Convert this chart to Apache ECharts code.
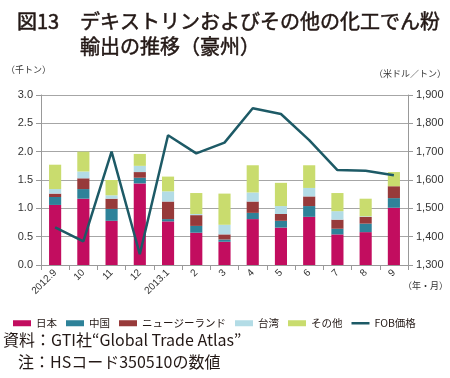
<!DOCTYPE html>
<html>
<head>
<meta charset="utf-8">
<script src="https://cdn.jsdelivr.net/npm/echarts@6/dist/echarts.min.js"></script>
<style>
html, body { margin: 0; padding: 0; background: #fff; }
#chart { width: 450px; height: 378px; }
</style>
</head>
<body>
<div id="chart"></div>
<script>
var months = ['2012.9', '10', '11', '12', '2013.1', '2', '3', '4', '5', '6', '7', '8', '9'];
// 千トン
var japan  = [1.06, 1.17, 0.78, 1.44, 0.77, 0.57, 0.41, 0.81, 0.66, 0.85, 0.54, 0.58, 1.01];
var china  = [0.14, 0.17, 0.21, 0.10, 0.04, 0.12, 0.04, 0.11, 0.12, 0.19, 0.10, 0.15, 0.17];
var nz     = [0.06, 0.19, 0.18, 0.10, 0.31, 0.19, 0.09, 0.20, 0.12, 0.17, 0.16, 0.12, 0.21];
var taiwan = [0.08, 0.12, 0.06, 0.11, 0.18, 0.02, 0.17, 0.16, 0.14, 0.15, 0.15, 0.01, 0.00];
var other  = [0.43, 0.35, 0.27, 0.21, 0.26, 0.37, 0.55, 0.48, 0.41, 0.40, 0.32, 0.31, 0.25];
// 米ドル/トン
var fob    = [1433, 1383, 1700, 1338, 1758, 1694, 1732, 1853, 1833, 1741, 1635, 1633, 1617];

var font = 'Liberation Sans, Noto Sans CJK JP, sans-serif';
var jpFont = 'Noto Sans CJK JP, sans-serif';

var dom = document.getElementById('chart');
var myChart = echarts.init(dom);

function bar(name, data, color) {
	return {
		name: name,
		type: 'bar',
		stack: 'total',
		yAxisIndex: 0,
		barWidth: '43%',
		data: data,
		itemStyle: { color: color }
	};
}

// 凡例の線アイコン（上下に透明な余白をとって細い線にする）
var lineIcon = 'path://M0,0L18,0L18,0.01L0,0.01Z M0,1.7L18,1.7L18,4.3L0,4.3Z M0,5.99L18,5.99L18,6L0,6Z';

var titleStyle = {
	fontFamily: jpFont, fontSize: 20, fontWeight: 'normal', color: '#231815',
	lineHeight: 25, textBorderColor: '#231815', textBorderWidth: 0.5
};

var option = {
	animation: false,
	textStyle: { fontFamily: font },
	title: [{
		text: '図13',
		left: 12, top: 4,
		textStyle: titleStyle
	}, {
		text: 'デキストリンおよびその他の化工でん粉\n輸出の推移（豪州）',
		left: 75, top: 4,
		textStyle: titleStyle
	}],
	graphic: [
		{ type: 'text', left: 6, top: 65, style: { text: '（千トン）', font: '9px ' + jpFont, fill: '#333' } },
		{ type: 'text', right: 4, top: 69, style: { text: '（米ドル／トン）', font: '9px ' + jpFont, fill: '#333' } },
		{ type: 'text', right: 2, top: 281, style: { text: '（年・月）', font: '9px ' + jpFont, fill: '#333' } },
		{ type: 'text', left: 3, top: 332, style: { text: '資料：GTI社“Global Trade Atlas”', font: '16px ' + jpFont, fill: '#231815' } },
		{ type: 'text', left: 18, top: 354, style: { text: '注：HSコード350510の数値', font: '16px ' + jpFont, fill: '#231815' } }
	],
	legend: {
		left: 8, top: 313,
		itemWidth: 18, itemHeight: 6, itemGap: 9,
		textStyle: { fontFamily: jpFont, fontSize: 10.5, color: '#231815' },
		data: [
			{ name: '日本', icon: 'rect' },
			{ name: '中国', icon: 'rect' },
			{ name: 'ニュージーランド', icon: 'rect' },
			{ name: '台湾', icon: 'rect' },
			{ name: 'その他', icon: 'rect' },
			{ name: 'FOB価格', icon: lineIcon }
		]
	},
	grid: { left: 41, right: 42, top: 95, bottom: 113 },
	xAxis: {
		type: 'category',
		data: months,
		axisLine: { lineStyle: { color: '#999' } },
		axisTick: { show: true, lineStyle: { color: '#999' } },
		axisLabel: { rotate: 45, fontSize: 10, color: '#333', margin: 6 }
	},
	yAxis: [{
		type: 'value',
		min: 0, max: 3, interval: 0.5,
		axisLine: { show: true, lineStyle: { color: '#999' } },
		axisTick: { show: true, lineStyle: { color: '#999' } },
		axisLabel: { fontSize: 11, color: '#333', formatter: function (v) { return v.toFixed(1); } },
		splitLine: { lineStyle: { color: '#a6a6a6' } }
	}, {
		type: 'value',
		min: 1300, max: 1900, interval: 100,
		axisLine: { show: true, lineStyle: { color: '#999' } },
		axisTick: { show: true, lineStyle: { color: '#999' } },
		axisLabel: { fontSize: 11, color: '#333', formatter: function (v) { return String(v).replace(/(\d)(\d{3})$/, '$1,$2'); } },
		splitLine: { show: false }
	}],
	series: [
		bar('日本', japan, '#c20d5f'),
		bar('中国', china, '#2e8299'),
		bar('ニュージーランド', nz, '#973a3a'),
		bar('台湾', taiwan, '#b3dce6'),
		bar('その他', other, '#c9dc6e'),
		{
			name: 'FOB価格',
			type: 'line',
			yAxisIndex: 1,
			data: fob,
			symbol: 'none',
			lineStyle: { color: '#1d5a66', width: 2.5 },
			itemStyle: { color: '#1d5a66' }
		}
	]
};

if (option && typeof option === 'object') {
	myChart.setOption(option, true);
}
</script>
</body>
</html>
